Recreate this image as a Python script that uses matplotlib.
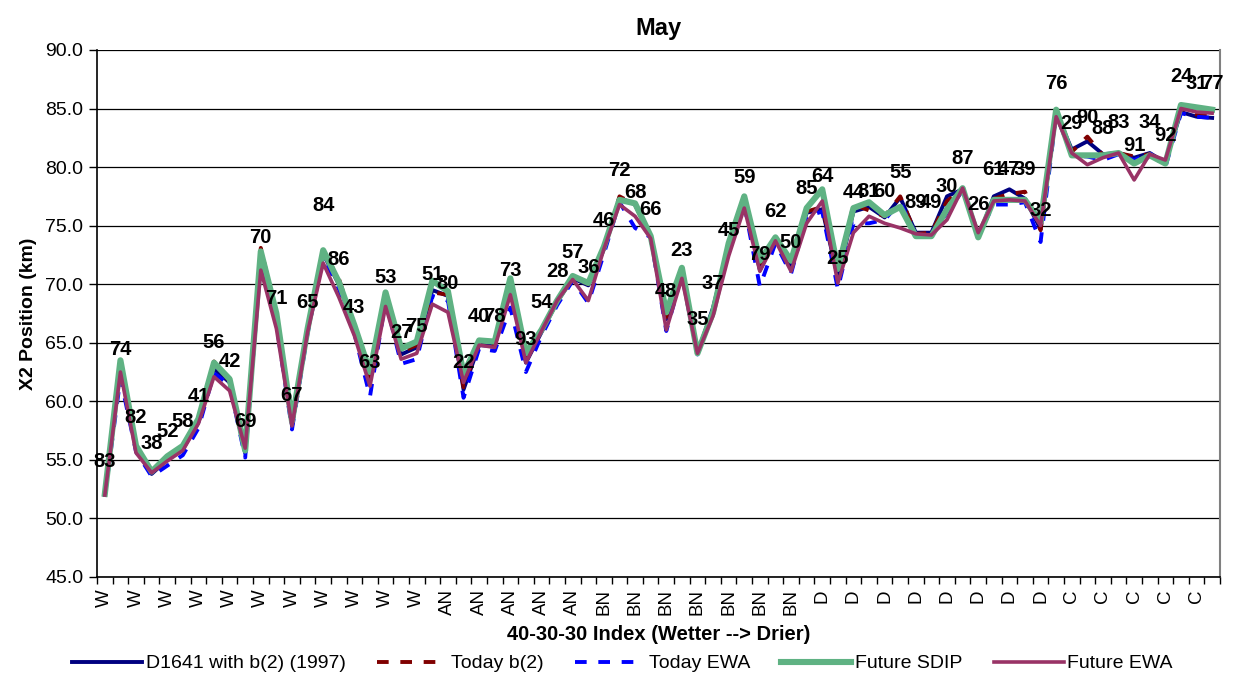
import matplotlib
matplotlib.use("Agg")
import matplotlib.pyplot as plt
from matplotlib.ticker import FormatStrFormatter, FixedLocator

plt.rcParams['font.family'] = ['Liberation Sans', 'DejaVu Sans']

# ---------------- data ----------------
categories = (["W"] * 22 + ["AN"] * 10 + ["BN"] * 13 + ["D"] * 16 + ["C"] * 11)

years = ["83", "74", "82", "38", "52", "58", "41", "56", "42", "69",
         "70", "71", "67", "65", "84", "86", "43", "63", "53", "27",
         "75", "51", "80", "22", "40", "78", "73", "93", "54", "28",
         "57", "36", "46", "72", "68", "66", "48", "23", "35", "37",
         "45", "59", "79", "62", "50", "85", "64", "25", "44", "81",
         "60", "55", "89", "49", "30", "87", "26", "61", "47", "39",
         "32", "76", "29", "90", "88", "83", "91", "34", "92", "24",
         "31", "77"]

year_label_y = [54.9, 64.4, 58.6, 56.4, 57.4, 58.3, 60.4, 65.0, 63.4, 58.3,
                74.0, 68.8, 60.5, 68.4, 76.7, 72.1, 68.0, 63.3, 70.6, 65.9,
                66.4, 70.8, 70.1, 63.3, 67.2, 67.2, 71.2, 65.3, 68.4, 71.1,
                72.7, 71.4, 75.4, 79.7, 77.8, 76.4, 69.4, 72.9, 67.0, 70.1,
                74.6, 79.1, 72.5, 76.2, 73.6, 78.2, 79.2, 72.2, 77.8, 77.9,
                77.9, 79.5, 77.0, 77.0, 78.3, 80.7, 76.8, 79.8, 79.8, 79.8,
                76.3, 87.1, 83.7, 84.2, 83.3, 83.8, 81.8, 83.8, 82.7, 87.7,
                87.1, 87.1]

d1641 = [52.0, 63.2, 56.0, 53.8, 55.0, 55.9, 58.2, 62.8, 61.6, 55.6,
         72.6, 67.2, 57.9, 66.0, 72.6, 70.0, 66.2, 61.8, 69.1, 64.0,
         64.6, 69.5, 69.0, 61.0, 64.8, 64.7, 70.2, 63.3, 65.9, 68.5,
         70.5, 69.9, 73.0, 77.4, 76.8, 74.0, 67.0, 71.2, 64.1, 68.0,
         73.3, 77.3, 71.2, 73.9, 71.5, 76.1, 76.4, 70.6, 76.2, 76.6,
         75.7, 77.4, 74.4, 74.4, 77.5, 78.1, 74.0, 77.5, 78.1, 77.3,
         74.7, 84.7, 81.5, 82.2, 81.1, 81.2, 80.8, 81.2, 80.4, 84.7,
         84.3, 84.2]

today_b2 = [52.0, 63.3, 56.1, 53.8, 55.1, 56.0, 58.3, 63.4, 61.7, 55.7,
            73.1, 67.4, 58.0, 66.1, 72.8, 70.5, 66.4, 62.0, 69.2, 64.2,
            64.8, 69.3, 69.1, 61.2, 64.9, 64.8, 70.3, 63.5, 66.0, 68.5,
            70.6, 70.0, 73.1, 77.5, 76.8, 74.1, 67.2, 71.3, 64.1, 67.8,
            73.4, 77.4, 71.5, 73.9, 71.6, 76.2, 76.6, 70.8, 76.8, 76.3,
            75.8, 77.5, 74.3, 74.4, 77.1, 78.1, 74.0, 77.3, 77.7, 77.9,
            74.6, 84.8, 81.3, 82.6, 81.0, 81.2, 80.9, 81.1, 80.3, 84.8,
            84.5, 84.3]

today_ewa = [51.9, 62.0, 55.7, 53.6, 54.5, 55.4, 57.7, 62.4, 61.4, 55.2,
             72.2, 66.6, 57.6, 65.8, 72.4, 69.6, 65.8, 60.4, 68.6, 63.2,
             63.6, 69.0, 68.6, 60.3, 64.5, 64.3, 68.0, 62.5, 65.6, 68.2,
             70.3, 68.4, 72.6, 77.0, 74.8, 74.0, 66.0, 70.8, 64.0, 67.6,
             73.0, 76.8, 69.8, 73.5, 70.9, 75.8, 76.2, 69.6, 75.2, 75.2,
             75.5, 77.0, 74.2, 74.2, 76.1, 78.0, 74.2, 76.8, 76.8, 77.0,
             73.6, 84.5, 81.0, 80.9, 80.6, 81.1, 80.6, 81.2, 80.0, 84.6,
             84.3, 84.2]

future_sdip = [52.1, 63.5, 56.2, 54.0, 55.3, 56.2, 58.5, 63.3, 61.9, 55.8,
               72.8, 67.5, 58.3, 66.2, 72.9, 70.2, 66.5, 62.5, 69.3, 64.5,
               65.1, 70.3, 69.4, 62.3, 65.2, 65.1, 70.5, 64.1, 66.1, 68.6,
               70.7, 70.1, 73.2, 77.2, 76.9, 74.1, 67.6, 71.4, 64.1, 67.6,
               73.5, 77.5, 72.0, 74.0, 72.0, 76.5, 78.1, 71.3, 76.5, 77.0,
               75.9, 76.6, 74.1, 74.1, 76.4, 78.2, 74.0, 77.2, 77.2, 77.2,
               75.3, 84.9, 81.0, 81.0, 81.0, 81.2, 80.3, 81.0, 80.3, 85.3,
               85.1, 84.9]

future_ewa = [52.0, 62.5, 55.6, 53.9, 54.9, 55.8, 58.1, 62.1, 60.9, 56.0,
              71.2, 66.2, 57.9, 65.9, 71.8, 68.9, 65.6, 61.3, 68.1, 63.6,
              64.1, 68.3, 67.6, 61.6, 64.8, 64.6, 69.1, 63.3, 66.0, 68.6,
              70.4, 68.6, 73.0, 76.8, 75.8, 73.9, 66.1, 70.5, 64.1, 67.3,
              72.4, 76.5, 71.1, 73.7, 71.1, 75.2, 77.1, 70.1, 74.4, 75.8,
              75.2, 74.8, 74.3, 74.2, 75.5, 78.2, 74.4, 77.1, 77.2, 77.1,
              75.0, 84.3, 81.2, 80.2, 80.8, 81.2, 78.9, 81.1, 80.6, 85.0,
              84.7, 84.6]

series_names = ["D1641 with b(2) (1997)", "Today b(2)", "Today EWA",
                "Future SDIP", "Future EWA"]

# ---------------- figure ----------------
fig = plt.figure(figsize=(12.33, 6.75), dpi=100)
ax = fig.add_axes([0.0787, 0.1452, 0.9107, 0.7808])

x = list(range(len(categories)))

ax.plot(x, d1641, color="#000080", lw=2.8, label=series_names[0], zorder=3)
ax.plot(x, today_b2, color="#800000", lw=2.8, ls=(0, (3, 3)),
        label=series_names[1], zorder=3)
ax.plot(x, today_ewa, color="#0000FF", lw=2.8, ls=(0, (3, 3)),
        label=series_names[2], zorder=3)
ax.plot(x, future_sdip, color="#5fb283", lw=4.4, label=series_names[3],
        zorder=4)
ax.plot(x, future_ewa, color="#993366", lw=2.6, label=series_names[4],
        zorder=5)

for xi, yl, yr in zip(x, year_label_y, years):
    ax.text(xi, yl, yr, ha="center", va="center", fontsize=14.5,
            fontweight="bold", color="black", zorder=6)

ax.set_xlim(-0.5, len(categories) - 0.5)
ax.set_ylim(45, 90)
ax.set_yticks([45, 50, 55, 60, 65, 70, 75, 80, 85, 90])
ax.yaxis.set_major_formatter(FormatStrFormatter("%.1f"))
ax.yaxis.grid(True, color="black", lw=0.9)
ax.set_axisbelow(True)

ax.set_xticks(x[::2])
ax.set_xticklabels(categories[::2], rotation=90, fontsize=13.5)
ax.xaxis.set_minor_locator(FixedLocator([i - 0.5 for i in range(len(categories) + 1)]))
ax.tick_params(axis="x", which="major", length=0, pad=9)
ax.tick_params(axis="x", which="minor", length=5, width=1, color="black")
ax.tick_params(axis="y", length=6, width=1, labelsize=14, pad=4)

for s in ["left", "bottom"]:
    ax.spines[s].set_color("black")
    ax.spines[s].set_linewidth(1.2)
ax.spines["top"].set_visible(False)
ax.spines["right"].set_color("#808080")
ax.spines["right"].set_linewidth(1.5)

ax.set_title("May", fontsize=17, fontweight="bold", pad=11)
ax.set_ylabel("X2 Position (km)", fontsize=14, fontweight="bold", labelpad=6)
ax.set_xlabel("40-30-30 Index (Wetter --> Drier)", fontsize=14.5,
              fontweight="bold", labelpad=7)

fig.legend(loc="lower center", bbox_to_anchor=(0.505, -0.022), ncol=5,
           frameon=False, fontsize=14, handlelength=3.6,
           columnspacing=1.6, handletextpad=0.2)

fig.savefig("out.png", dpi=100)
